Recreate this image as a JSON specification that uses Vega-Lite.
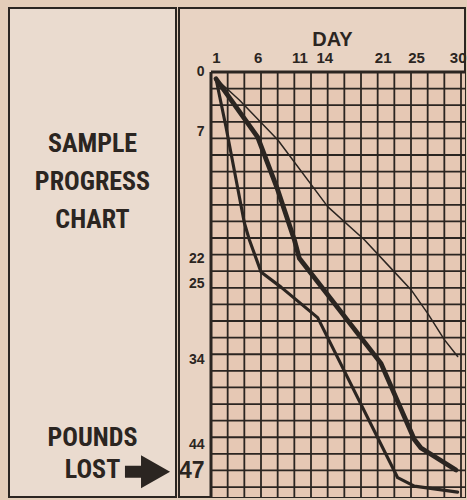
{
  "$schema": "https://vega.github.io/schema/vega-lite/v6.json",
  "background": "#e4cdb9",
  "padding": {"left": 8, "top": 7, "right": 2, "bottom": 3},
  "spacing": 0,
  "config": {"view": {"stroke": "#2b2521", "strokeWidth": 2}},
  "hconcat": [
    {
      "width": 167,
      "height": 489,
      "view": {"fill": "#eadbcf"},
      "layer": [
        {
          "data": {"values": [
            {"text": "SAMPLE", "lbs": 8.5},
            {"text": "PROGRESS", "lbs": 13},
            {"text": "CHART", "lbs": 17.5},
            {"text": "POUNDS", "lbs": 43.2},
            {"text": "LOST", "lbs": 47}
          ]},
          "mark": {"type": "text", "font": "Noto Sans Condensed, Noto Sans ExtraCondensed, Roboto Condensed, DejaVu Sans Condensed, Liberation Sans Narrow, Roboto", "fontWeight": "bold", "fontSize": 26, "color": "#2b2521", "baseline": "middle", "align": "center"},
          "encoding": {
            "y": {"field": "lbs", "type": "quantitative", "scale": {"domain": [-7.556, 50.18], "reverse": true, "nice": false, "zero": false}, "axis": null},
            "text": {"field": "text"}
          }
        },
        {
          "data": {"values": [{"label": "arrow", "lbs": 47.2}]},
          "mark": {"type": "point", "shape": "M-2.32,-0.27L-1.59,-0.27L-1.59,-0.75L-0.27,0L-1.59,0.75L-1.59,0.27L-2.32,0.27Z", "filled": true, "size": 1936, "color": "#2b2521", "opacity": 1, "strokeWidth": 0},
          "encoding": {
            "y": {"field": "lbs", "type": "quantitative"},
            "x": {"value": "width"}
          }
        }
      ]
    },
    {
      "width": 286,
      "height": 489,
      "view": {"fill": "#e8d3c3"},
      "layer": [
        {
          "data": {"values": [{"area": "grid"}]},
          "mark": {"type": "rect", "color": "#e6c8b4", "opacity": 1},
          "encoding": {
            "x": {"datum": 0, "type": "quantitative", "scale": {"domain": [-1.92, 15.24], "nice": false, "zero": false}, "axis": null},
            "x2": {"value": "width"},
            "y": {"datum": 0, "type": "quantitative", "scale": {"domain": [-3.855, 25.6], "reverse": true, "nice": false, "zero": false}, "axis": null},
            "y2": {"value": "height"}
          }
        },
        {
          "data": {"values": [
            {"col": 0}, {"col": 1}, {"col": 2}, {"col": 3}, {"col": 4}, {"col": 5}, {"col": 6}, {"col": 7},
            {"col": 8}, {"col": 9}, {"col": 10}, {"col": 11}, {"col": 12}, {"col": 13}, {"col": 14}, {"col": 15}
          ]},
          "mark": {"type": "rule", "color": "#2b2521"},
          "encoding": {
            "x": {"field": "col", "type": "quantitative", "scale": {"domain": [-1.92, 15.24], "nice": false, "zero": false}, "axis": null},
            "y": {"datum": 0, "type": "quantitative", "scale": {"domain": [-3.855, 25.6], "reverse": true, "nice": false, "zero": false}, "axis": null},
            "y2": {"value": "height"},
            "strokeWidth": {"condition": {"test": "datum.col == 0", "value": 3}, "value": 1.8}
          }
        },
        {
          "data": {"values": [
            {"row": 0}, {"row": 1}, {"row": 2}, {"row": 3}, {"row": 4}, {"row": 5}, {"row": 6}, {"row": 7}, {"row": 8},
            {"row": 9}, {"row": 10}, {"row": 11}, {"row": 12}, {"row": 13}, {"row": 14}, {"row": 15}, {"row": 16}, {"row": 17},
            {"row": 18}, {"row": 19}, {"row": 20}, {"row": 21}, {"row": 22}, {"row": 23}, {"row": 24}, {"row": 25}
          ]},
          "mark": {"type": "rule", "color": "#2b2521"},
          "encoding": {
            "y": {"field": "row", "type": "quantitative", "scale": {"domain": [-3.855, 25.6], "reverse": true, "nice": false, "zero": false}, "axis": null},
            "x": {"datum": 0, "type": "quantitative", "scale": {"domain": [-1.92, 15.24], "nice": false, "zero": false}, "axis": null},
            "x2": {"value": "width"},
            "strokeWidth": {"condition": {"test": "datum.row == 0", "value": 3}, "value": 1.8}
          }
        },
        {
          "data": {"values": [
            {"series": "progress", "day": 1, "lbs": 0.8},
            {"series": "progress", "day": 6, "lbs": 7.7},
            {"series": "progress", "day": 8.4, "lbs": 13.9},
            {"series": "progress", "day": 10.4, "lbs": 19.8},
            {"series": "progress", "day": 11, "lbs": 22},
            {"series": "progress", "day": 20.8, "lbs": 34.4},
            {"series": "progress", "day": 24.8, "lbs": 43.4},
            {"series": "progress", "day": 25.6, "lbs": 44.4},
            {"series": "progress", "day": 29.8, "lbs": 47},
            {"series": "lower", "day": 1, "lbs": 0.8},
            {"series": "lower", "day": 2.2, "lbs": 6.5},
            {"series": "lower", "day": 4.4, "lbs": 17.8},
            {"series": "lower", "day": 5.0, "lbs": 19.8},
            {"series": "lower", "day": 6.4, "lbs": 23.6},
            {"series": "lower", "day": 8.8, "lbs": 25.4},
            {"series": "lower", "day": 13.2, "lbs": 29.0},
            {"series": "lower", "day": 22.8, "lbs": 47.9},
            {"series": "lower", "day": 24.8, "lbs": 48.9},
            {"series": "lower", "day": 30, "lbs": 49.6},
            {"series": "upper", "day": 1, "lbs": 0.8},
            {"series": "upper", "day": 3.8, "lbs": 3.3},
            {"series": "upper", "day": 8.4, "lbs": 8.0},
            {"series": "upper", "day": 14.4, "lbs": 15.9},
            {"series": "upper", "day": 18.8, "lbs": 19.8},
            {"series": "upper", "day": 22.4, "lbs": 23.6},
            {"series": "upper", "day": 24.4, "lbs": 25.7},
            {"series": "upper", "day": 26.4, "lbs": 28.5},
            {"series": "upper", "day": 28.4, "lbs": 31.6},
            {"series": "upper", "day": 30, "lbs": 33.6}
          ]},
          "mark": {"type": "line", "color": "#2b2521", "strokeJoin": "round", "strokeCap": "round"},
          "encoding": {
            "x": {
              "field": "day", "type": "quantitative",
              "scale": {"domain": [-3.44, 30.88], "nice": false, "zero": false},
              "axis": {
                "orient": "top", "offset": -64, "values": [1, 6, 11, 14, 21, 25, 30],
                "domain": false, "ticks": false, "grid": false, "labelFlush": false,
                "labelPadding": 7, "labelFontSize": 15, "labelFontWeight": "bold", "labelFont": "Liberation Sans", "labelColor": "#2b2521",
                "title": "DAY", "titleFontSize": 20, "titleFont": "Liberation Sans", "titleFontWeight": "bold", "titleColor": "#2b2521",
                "titleX": 153, "titleY": -27, "titleBaseline": "alphabetic", "titleAlign": "center", "titleAngle": 0
              }
            },
            "y": {
              "field": "lbs", "type": "quantitative",
              "scale": {"domain": [-7.556, 50.18], "reverse": true, "nice": false, "zero": false},
              "axis": {
                "orient": "left", "offset": -32, "values": [0, 7, 22, 25, 34, 44, 47],
                "domain": false, "ticks": false, "grid": false, "labelFlush": false,
                "labelPadding": 7, "labelFontSize": {"condition": {"test": "datum.value == 47", "value": 23}, "value": 14},
                "labelFontWeight": "bold", "labelFont": "Liberation Sans", "labelColor": "#2b2521", "title": null
              }
            },
            "strokeWidth": {"field": "series", "type": "nominal", "scale": {"domain": ["progress", "lower", "upper"], "range": [4.8, 1.5, 1.5]}, "legend": null}
          }
        }
      ],
      "resolve": {"scale": {"x": "independent", "y": "independent"}}
    }
  ]
}
